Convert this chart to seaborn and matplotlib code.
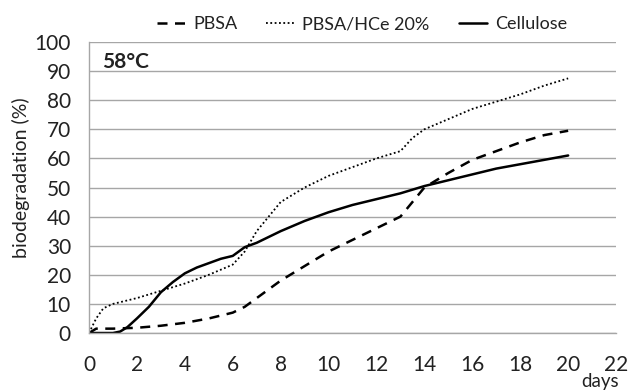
import matplotlib
matplotlib.use("Agg")
import matplotlib.pyplot as plt
import seaborn as sns
import pandas as pd

pbsa_days = [0, 0.3, 1, 2, 3, 4, 5, 6, 6.5, 7, 8, 9, 10, 11, 12, 13, 13.5, 14, 15, 16, 17, 18, 19, 20]
pbsa_vals = [0, 1.5, 1.5, 1.8, 2.5, 3.5, 5, 7, 9, 12, 18, 23, 28, 32, 36, 40, 45, 50, 55, 59.5, 62.5, 65.5, 68, 69.5]

hce_days = [0, 0.3, 0.6, 1, 2, 3, 4, 5, 6, 6.5, 7, 7.5, 8, 9, 10, 11, 12, 13, 13.5, 14, 15, 16, 17, 18, 19, 20]
hce_vals = [0, 5, 8.5, 10, 12, 14.5, 17, 20, 23.5, 28, 35, 40, 45, 50, 54, 57, 60, 62.5, 67, 70, 73.5, 77, 79.5, 82, 85, 87.5]

cel_days = [0, 1, 1.3, 1.6, 2, 2.5, 3, 3.5, 4, 4.5, 5, 5.5, 6, 6.5, 7, 8, 9, 10, 11, 12, 13, 14, 15, 16, 17, 18, 19, 20]
cel_vals = [0, 0, 0.5, 2, 5, 9, 14, 17.5, 20.5, 22.5, 24, 25.5, 26.5, 29.5, 31, 35, 38.5, 41.5, 44, 46, 48, 50.5, 52.5, 54.5, 56.5, 58, 59.5, 61]

x_ticks = list(range(0, 23, 2))
y_ticks = list(range(0, 101, 10))

sns.set_theme(style="white")
plt.rcParams['font.family'] = ['Lato', 'DejaVu Sans']

FS = 15
TXT = "#222222"

fig = plt.figure(figsize=(6.28, 3.91), dpi=100)
ax = fig.add_axes([0.1417, 0.1483, 0.981 - 0.1417, 0.8926 - 0.1483])

sns.lineplot(x=pbsa_days, y=pbsa_vals, ax=ax, color="black", lw=1.8, label="PBSA")
ax.lines[-1].set_dashes([4, 3])
sns.lineplot(x=hce_days, y=hce_vals, ax=ax, color="black", lw=1.3, label="PBSA/HCe 20%")
ax.lines[-1].set_dashes([1, 1.4])
sns.lineplot(x=cel_days, y=cel_vals, ax=ax, color="black", lw=1.8, label="Cellulose")

ax.set_xlim(0, 22)
ax.set_ylim(0, 100)
ax.set_xticks(x_ticks)
ax.set_yticks(y_ticks)
ax.set_xticklabels([str(t) for t in x_ticks], fontsize=FS)
ax.set_yticklabels([str(t) for t in y_ticks], fontsize=FS)
ax.yaxis.grid(True, color="#a6a6a6", lw=1)
ax.xaxis.grid(False)
for s in ["top", "right"]:
    ax.spines[s].set_visible(False)
for s in ["left", "bottom"]:
    ax.spines[s].set_color("#a6a6a6")
    ax.spines[s].set_linewidth(1)
ax.tick_params(axis="x", direction="out", length=6, color="#a6a6a6", width=1, pad=10, labelcolor=TXT)
ax.tick_params(axis="y", length=0, pad=13, labelcolor=TXT)
ax.set_ylabel("biodegradation (%)", fontsize=14, color=TXT)
ax.yaxis.set_label_coords(-0.112, 0.533)
ax.set_xlabel("")
ax.text(0.55, 93, "58°C", fontsize=FS, fontweight="bold", va="center", ha="left", color=TXT)
fig.text(600 / 628, 1 - 381 / 391, "days", fontsize=13.5, ha="center", va="center", color=TXT)

leg = ax.legend(loc="lower center", bbox_to_anchor=(0.518, 1.0), ncol=3, frameon=False,
                fontsize=13, handlelength=1.6, columnspacing=1.6, handletextpad=0.4, borderaxespad=0.15)
for t in leg.get_texts():
    t.set_color(TXT)

fig.savefig("out.png", dpi=100)
